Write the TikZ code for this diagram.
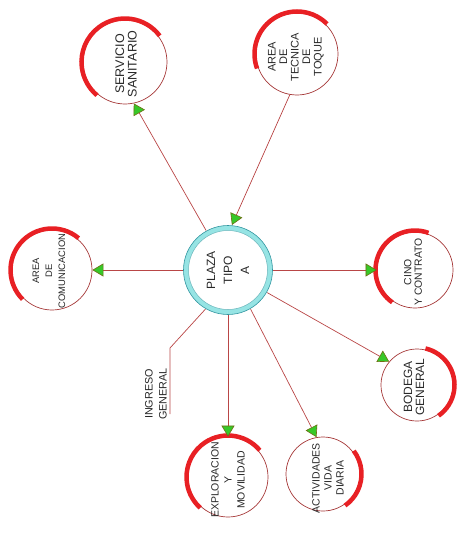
\documentclass[tikz,border=0pt]{standalone}
\usepackage{fontspec}
\setmainfont{Liberation Sans}
\usetikzlibrary{arrows.meta}
\definecolor{arcred}{RGB}{232,32,36}
\definecolor{thinred}{RGB}{165,55,55}
\definecolor{linered}{RGB}{185,70,70}
\definecolor{agreen}{RGB}{55,200,40}
\definecolor{aedge}{RGB}{110,110,20}
\definecolor{ringcyan}{RGB}{150,228,228}
\definecolor{ringedge}{RGB}{50,150,160}
\definecolor{txt}{RGB}{40,40,40}
\begin{document}
\begin{tikzpicture}[x=1pt,y=1pt,
  room/.style={circle,draw=thinred,line width=0.7pt,minimum size=#1,inner sep=0pt},
  lbl/.style={rotate=90,align=center,text=txt,inner sep=0pt},
  conn/.style={draw=linered,line width=0.7pt,-{Triangle[length=11pt,width=13pt,fill=agreen,color=aedge,line width=0.6pt]}},
  plain/.style={draw=linered,line width=0.7pt},
  redarc/.style={draw=arcred,line width=4.5pt}]
\useasboundingbox (0,0) rectangle (456,-533);

% central plaza
\node[circle,minimum size=90pt,inner sep=0pt] (plaza) at (228,-270) {};
\draw[ringcyan,line width=5pt] (plaza.center) circle[radius=42];
\draw[ringedge,line width=0.6pt] (plaza.center) circle[radius=44.5];
\draw[ringedge!70,line width=0.5pt] (plaza.center) circle[radius=39.5];
\node[lbl,font=\fontsize{12}{17}\selectfont] (plazat) at (plaza.center) {PLAZA\\TIPO\\A};

% rooms
\node[room=84pt] (serv) at (125,-62) {};
\draw[redarc] (serv.center) ++(37:43.5) arc[start angle=37,end angle=230,radius=43.5];
\node[lbl,font=\fontsize{12.5}{12.5}\selectfont] (servt) at (126,-64) {SERVICIO\\SANITARIO};

\node[room=82pt] (tec) at (297,-54) {};
\draw[redarc] (tec.center) ++(45:42.5) arc[start angle=45,end angle=200,radius=42.5];
\node[lbl,font=\fontsize{11}{11.5}\selectfont] (tect) at (296,-57) {AREA\\DE\\TECNICA\\DE\\TOQUE};

\node[room=80pt] (com) at (52,-270) {};
\draw[redarc] (com.center) ++(50:41.5) arc[start angle=50,end angle=225,radius=41.5];
\node[lbl,font=\fontsize{9.4}{13}\selectfont] (comt) at (49,-271) {AREA\\DE\\COMUNICACION};

\node[room=76pt] (cino) at (415,-270) {};
\draw[redarc] (cino.center) ++(70:39.5) arc[start angle=70,end angle=235,radius=39.5];
\node[lbl,font=\fontsize{10.4}{10.5}\selectfont] (cinot) at (413,-272) {CINO\\Y CONTRATO};

\node[room=72pt] (bod) at (417,-385) {};
\draw[redarc] (bod.center) ++(-55:37.5) arc[start angle=-55,end angle=77,radius=37.5];
\node[lbl,font=\fontsize{12}{12}\selectfont] (bodt) at (414,-387) {BODEGA\\GENERAL};

\node[room=74pt] (act) at (323,-474) {};
\draw[redarc] (act.center) ++(-55:38.5) arc[start angle=-55,end angle=37,radius=38.5];
\node[lbl,font=\fontsize{10.5}{12}\selectfont] (actt) at (328,-478) {ACTIVIDADES\\VIDA\\DIARIA};

\node[room=80pt] (exp) at (228,-477) {};
\draw[redarc] (exp.center) ++(40:41.5) arc[start angle=40,end angle=228,radius=41.5];
\node[lbl,font=\fontsize{10.5}{13}\selectfont] (expt) at (228,-480) {EXPLORACION\\Y\\MOVILIDAD};

% connectors
\draw[conn] (plaza.119) -- (serv.282);
\draw[conn] (tec.260) -- (plaza.85);
\draw[conn] (plaza.180) -- (com.0);
\draw[conn] (plaza.0) -- (cino.180);
\draw[conn] (plaza.-30) -- (bod.140);
\draw[conn] (plaza.-60) -- (act.100);
\draw[conn] (plaza.270) -- (exp.90);

% ingreso general
\node[lbl,font=\fontsize{10.8}{14}\selectfont] (ing) at (156,-394) {INGRESO\\GENERAL};
\coordinate (ingA) at (170,-414);
\coordinate (ingB) at (170,-348);
\draw[plain] (ingA) -- (ingB) -- (plaza.240);
\end{tikzpicture}
\end{document}
